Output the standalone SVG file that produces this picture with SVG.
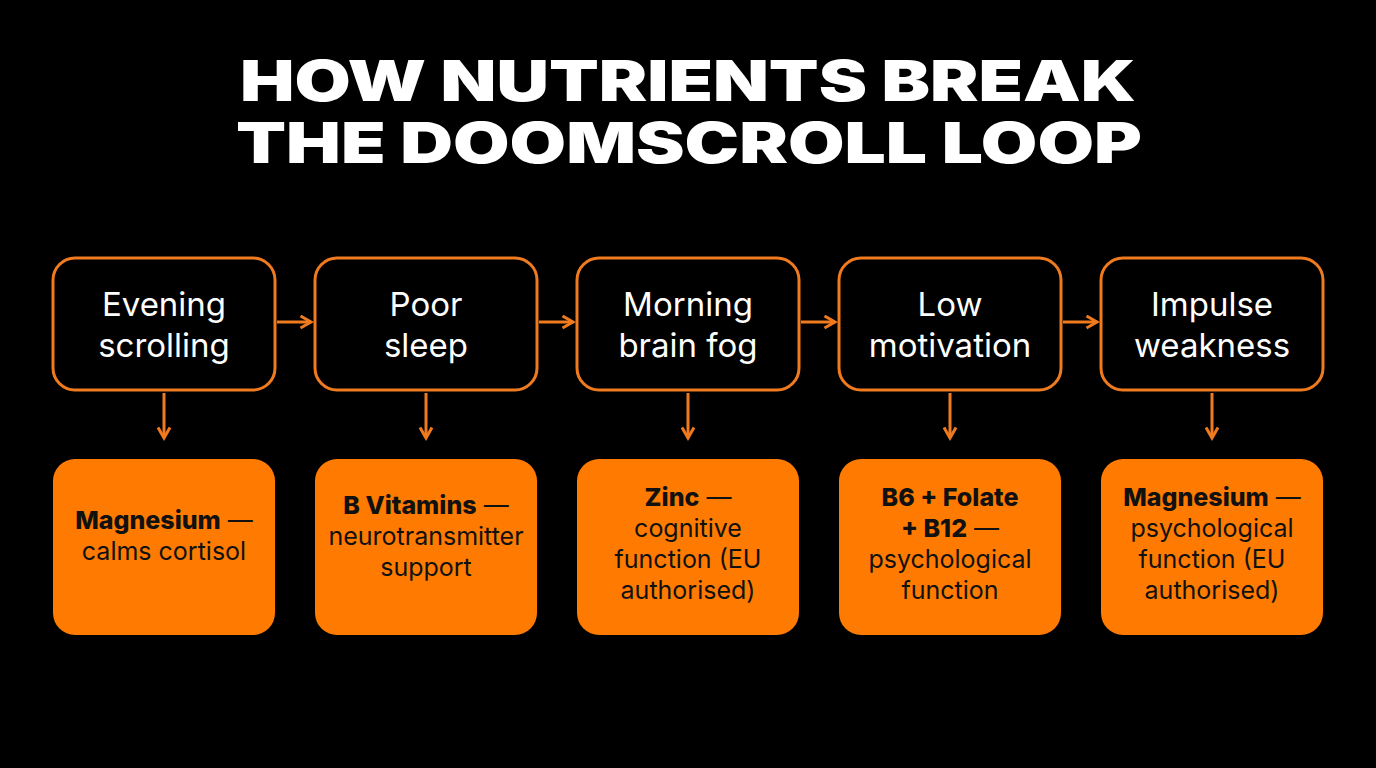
<svg xmlns="http://www.w3.org/2000/svg" width="1376" height="768" viewBox="0 0 1376 768">
<style>
.t{font-family:Inter,"Noto Sans",sans-serif;font-weight:900;font-size:56px;fill:#fff;text-anchor:middle}
.top rect{fill:#000;stroke:#F07A1E;stroke-width:3}
.top text{font-family:Inter,"Open Sans",sans-serif;font-size:33px;fill:#fff;text-anchor:middle}
.bot rect{fill:#FF7A00}
.bot text{font-family:Inter,"Open Sans",sans-serif;font-size:25px;fill:#111;text-anchor:middle}
.b{font-weight:800}
.c line{stroke:#F07A1E;stroke-width:3;fill:none}
</style>
<defs><marker id="a" viewBox="0 0 10 10" refX="8" refY="5" markerWidth="5" markerHeight="5" orient="auto"><path d="M1,1 L8,5 L1,9" fill="none" stroke="#F07A1E" stroke-width="2"/></marker></defs>
<rect width="1376" height="768" fill="#000"/>
<text class="t" x="688" y="101" textLength="896" lengthAdjust="spacingAndGlyphs">HOW NUTRIENTS BREAK</text>
<text class="t" x="689" y="163" textLength="906" lengthAdjust="spacingAndGlyphs">THE DOOMSCROLL LOOP</text>
<g class="c">
<line x1="277" y1="322" x2="311" y2="322" marker-end="url(#a)"/>
<line x1="539" y1="322" x2="573" y2="322" marker-end="url(#a)"/>
<line x1="801" y1="322" x2="835" y2="322" marker-end="url(#a)"/>
<line x1="1063" y1="322" x2="1097" y2="322" marker-end="url(#a)"/>
<line x1="164" y1="393" x2="164" y2="438" marker-end="url(#a)"/>
<line x1="426" y1="393" x2="426" y2="438" marker-end="url(#a)"/>
<line x1="688" y1="393" x2="688" y2="438" marker-end="url(#a)"/>
<line x1="950" y1="393" x2="950" y2="438" marker-end="url(#a)"/>
<line x1="1212" y1="393" x2="1212" y2="438" marker-end="url(#a)"/>
</g>
<g id="n1" class="top"><rect x="53" y="258" width="222" height="132" rx="22"/><text x="164" y="316">Evening</text><text x="164" y="357">scrolling</text></g>
<g id="n2" class="top"><rect x="315" y="258" width="222" height="132" rx="22"/><text x="426" y="316">Poor</text><text x="426" y="357">sleep</text></g>
<g id="n3" class="top"><rect x="577" y="258" width="222" height="132" rx="22"/><text x="688" y="316">Morning</text><text x="688" y="357">brain fog</text></g>
<g id="n4" class="top"><rect x="839" y="258" width="222" height="132" rx="22"/><text x="950" y="316">Low</text><text x="950" y="357">motivation</text></g>
<g id="n5" class="top"><rect x="1101" y="258" width="222" height="132" rx="22"/><text x="1212" y="316">Impulse</text><text x="1212" y="357">weakness</text></g>
<g id="m1" class="bot"><rect x="53" y="459" width="222" height="176" rx="22"/><text x="164" y="529"><tspan class="b">Magnesium</tspan> —</text><text x="164" y="560">calms cortisol</text></g>
<g id="m2" class="bot"><rect x="315" y="459" width="222" height="176" rx="22"/><text x="426" y="514"><tspan class="b">B Vitamins</tspan> —</text><text x="426" y="545">neurotransmitter</text><text x="426" y="576">support</text></g>
<g id="m3" class="bot"><rect x="577" y="459" width="222" height="176" rx="22"/><text x="688" y="506"><tspan class="b">Zinc</tspan> —</text><text x="688" y="537">cognitive</text><text x="688" y="568">function (EU</text><text x="688" y="599">authorised)</text></g>
<g id="m4" class="bot"><rect x="839" y="459" width="222" height="176" rx="22"/><text x="950" y="506" class="b">B6 + Folate</text><text x="950" y="537"><tspan class="b">+ B12</tspan> —</text><text x="950" y="568">psychological</text><text x="950" y="599">function</text></g>
<g id="m5" class="bot"><rect x="1101" y="459" width="222" height="176" rx="22"/><text x="1212" y="506"><tspan class="b">Magnesium</tspan> —</text><text x="1212" y="537">psychological</text><text x="1212" y="568">function (EU</text><text x="1212" y="599">authorised)</text></g>
</svg>
